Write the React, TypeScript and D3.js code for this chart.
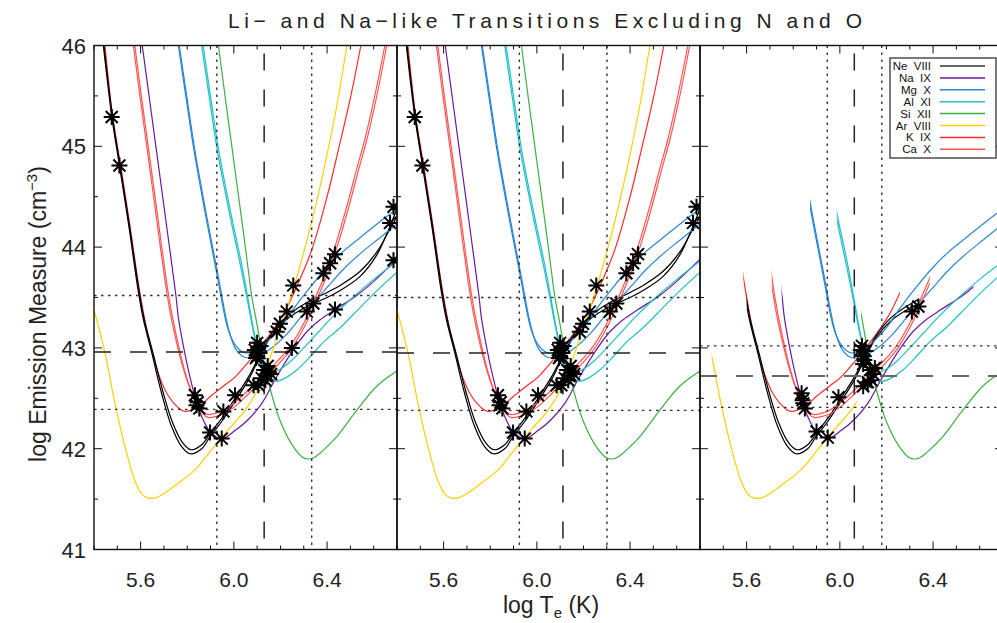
import React, { useEffect, useRef } from 'react'
import * as d3 from 'd3'

type Pt = [number, number]

// log T , log EM
const neVIII_a: Pt[] = [[5.44, 46.0], [5.476, 45.3], [5.509, 44.81], [5.55, 44.2], [5.59, 43.56], [5.612, 43.28], [5.648, 42.95], [5.69, 42.55], [5.733, 42.22], [5.776, 42.02], [5.812, 41.95], [5.862, 42.0], [5.898, 42.12], [5.948, 42.27], [6.005, 42.47], [6.062, 42.68], [6.105, 42.88], [6.155, 43.1], [6.22, 43.27], [6.313, 43.41], [6.4, 43.5], [6.456, 43.57], [6.542, 43.71], [6.613, 43.92], [6.663, 44.17], [6.7, 44.38]]
const neVIII_b: Pt[] = [[5.443, 46.0], [5.479, 45.3], [5.512, 44.81], [5.553, 44.2], [5.594, 43.56], [5.616, 43.28], [5.652, 42.96], [5.694, 42.58], [5.737, 42.26], [5.78, 42.06], [5.815, 41.99], [5.862, 42.04], [5.898, 42.15], [5.948, 42.3], [6.005, 42.5], [6.062, 42.71], [6.105, 42.9], [6.155, 43.12], [6.22, 43.3], [6.313, 43.45], [6.4, 43.55], [6.456, 43.62], [6.542, 43.76], [6.613, 43.95], [6.663, 44.15], [6.7, 44.3]]
const naIX: Pt[] = [[5.607, 46.0], [5.645, 45.35], [5.68, 44.75], [5.715, 44.15], [5.752, 43.51], [5.762, 43.3], [5.785, 43.0], [5.805, 42.78], [5.833, 42.52], [5.862, 42.32], [5.898, 42.17], [5.948, 42.1], [6.005, 42.18], [6.062, 42.29], [6.12, 42.45], [6.18, 42.7], [6.255, 42.98], [6.313, 43.16], [6.37, 43.28], [6.434, 43.38], [6.527, 43.52], [6.6, 43.66], [6.7, 43.88]]
const mgX_a: Pt[] = [[5.762, 46.0], [5.795, 45.48], [5.829, 44.96], [5.88, 44.3], [5.929, 43.71], [5.972, 43.21], [6.0, 43.05], [6.025, 42.98], [6.051, 42.95], [6.09, 42.97], [6.143, 43.06], [6.2, 43.2], [6.26, 43.4], [6.32, 43.58], [6.4, 43.8], [6.47, 43.96], [6.545, 44.1], [6.62, 44.24], [6.7, 44.38]]
const mgX_b: Pt[] = [[5.766, 46.0], [5.799, 45.48], [5.833, 44.96], [5.884, 44.3], [5.933, 43.71], [5.976, 43.2], [6.005, 43.0], [6.035, 42.92], [6.065, 42.9], [6.1, 42.92], [6.15, 42.98], [6.22, 43.12], [6.3, 43.34], [6.4, 43.6], [6.47, 43.78], [6.545, 43.94], [6.62, 44.08], [6.7, 44.23]]
const alXI_a: Pt[] = [[5.862, 46.0], [5.895, 45.48], [5.929, 44.96], [5.98, 44.35], [6.03, 43.8], [6.06, 43.45], [6.085, 43.15], [6.11, 42.93], [6.14, 42.8], [6.17, 42.76], [6.2, 42.79], [6.25, 42.88], [6.3, 43.0], [6.36, 43.15], [6.42, 43.3], [6.5, 43.48], [6.6, 43.68], [6.7, 43.86]]
const alXI_b: Pt[] = [[5.868, 46.0], [5.901, 45.48], [5.935, 44.96], [5.986, 44.35], [6.036, 43.8], [6.066, 43.42], [6.092, 43.1], [6.12, 42.86], [6.15, 42.72], [6.18, 42.67], [6.22, 42.7], [6.27, 42.78], [6.33, 42.92], [6.39, 43.07], [6.456, 43.2], [6.55, 43.42], [6.62, 43.58], [6.7, 43.75]]
const siXII: Pt[] = [[5.934, 46.0], [5.965, 45.45], [6.0, 44.85], [6.035, 44.25], [6.062, 43.77], [6.077, 43.51], [6.098, 43.25], [6.127, 42.88], [6.155, 42.6], [6.198, 42.28], [6.255, 42.02], [6.298, 41.91], [6.33, 41.9], [6.356, 41.93], [6.4, 42.02], [6.442, 42.12], [6.527, 42.38], [6.613, 42.62], [6.7, 42.77]]
const arVIII: Pt[] = [[5.4, 43.38], [5.447, 42.95], [5.49, 42.45], [5.533, 42.02], [5.576, 41.68], [5.605, 41.55], [5.633, 41.51], [5.66, 41.51], [5.69, 41.54], [5.762, 41.66], [5.833, 41.79], [5.905, 41.99], [5.976, 42.19], [6.048, 42.38], [6.105, 42.6], [6.155, 42.9], [6.212, 43.28], [6.25, 43.55], [6.3, 43.95], [6.334, 44.25], [6.37, 44.6], [6.4, 44.92], [6.44, 45.38], [6.485, 46.0]]
const kIX: Pt[] = [[5.447, 46.0], [5.48, 45.3], [5.515, 44.8], [5.555, 44.2], [5.595, 43.57], [5.632, 43.12], [5.675, 42.75], [5.72, 42.52], [5.76, 42.41], [5.79, 42.37], [5.85, 42.42], [5.905, 42.53], [5.96, 42.63], [6.005, 42.71], [6.062, 42.86], [6.1, 42.97], [6.16, 43.15], [6.212, 43.33], [6.27, 43.61], [6.334, 43.97], [6.4, 44.5], [6.45, 44.98], [6.5, 45.48], [6.545, 46.0]]
const caX_a: Pt[] = [[5.569, 46.0], [5.6, 45.45], [5.65, 44.6], [5.715, 43.51], [5.74, 43.2], [5.78, 42.82], [5.82, 42.55], [5.86, 42.38], [5.885, 42.34], [5.92, 42.35], [5.955, 42.38], [6.0, 42.45], [6.062, 42.58], [6.15, 42.78], [6.23, 42.98], [6.29, 43.2], [6.34, 43.45], [6.39, 43.72], [6.44, 44.05], [6.49, 44.45], [6.53, 44.8], [6.56, 45.05], [6.6, 45.45], [6.648, 46.0]]
const caX_b: Pt[] = [[5.575, 46.0], [5.606, 45.45], [5.656, 44.6], [5.721, 43.51], [5.746, 43.2], [5.786, 42.8], [5.826, 42.52], [5.866, 42.35], [5.89, 42.31], [5.925, 42.32], [5.96, 42.35], [6.005, 42.42], [6.07, 42.56], [6.16, 42.76], [6.24, 42.97], [6.298, 43.19], [6.348, 43.44], [6.398, 43.71], [6.448, 44.04], [6.498, 44.44], [6.538, 44.79], [6.568, 45.04], [6.608, 45.44], [6.656, 46.0]]

// asterisks
const starsCommon: Pt[] = [[5.476, 45.29], [5.509, 44.81], [5.833, 42.53], [5.845, 42.46], [5.852, 42.4], [5.84, 42.43], [5.898, 42.16], [5.948, 42.1], [5.955, 42.37], [6.005, 42.53], [6.085, 42.63], [6.105, 42.63], [6.09, 42.98], [6.1, 42.92], [6.105, 43.0], [6.11, 42.95], [6.095, 42.9], [6.115, 43.02], [6.1, 43.05], [6.13, 42.78], [6.14, 42.72], [6.15, 42.76], [6.135, 42.68], [6.145, 42.82], [6.16, 42.74], [6.12, 42.7], [6.184, 43.16], [6.198, 43.24], [6.227, 43.36], [6.255, 43.62], [6.313, 43.36], [6.341, 43.44], [6.384, 43.74], [6.413, 43.84], [6.434, 43.93], [6.67, 44.24], [6.685, 44.4]]
const starsPanel1: Pt[] = [[6.249, 43.0], [6.434, 43.38], [6.685, 43.87]]
const starsPanel3: Pt[] = [[5.836, 42.55], [5.843, 42.45], [5.85, 42.4], [5.84, 42.48], [5.9, 42.17], [5.948, 42.11], [5.994, 42.51], [6.09, 42.98], [6.1, 42.92], [6.095, 43.02], [6.105, 42.88], [6.11, 42.97], [6.1, 42.84], [6.13, 42.78], [6.143, 42.74], [6.15, 42.8], [6.135, 42.68], [6.12, 42.66], [6.1, 42.62], [6.309, 43.36], [6.337, 43.41]]

// reference lines per panel
const vDotted = [[5.927, 6.334], [5.925, 6.301], [5.946, 6.18]]
const vDashed = [6.13, 6.112, 6.062]
const hDotted = [[43.52, 42.39], [43.5, 42.38], [43.02, 42.41]]
const hDashed = [42.96, 42.95, 42.72]

const ions = [
  { key: 'ne', label: 'Ne  VIII', color: '#000000', curves: [neVIII_a, neVIII_b], range3: [5.6, 6.337] },
  { key: 'na', label: 'Na  IX', color: '#6a1b9a', curves: [naIX], range3: [5.75, 6.573] },
  { key: 'mg', label: 'Mg  X', color: '#2a86d4', curves: [mgX_a, mgX_b], range3: [5.872, 6.8] },
  { key: 'al', label: 'Al  XI', color: '#22bfc9', curves: [alXI_a, alXI_b], range3: [5.987, 6.8] },
  { key: 'si', label: 'Si  XII', color: '#3cb043', curves: [siXII], range3: [6.091, 6.8] },
  { key: 'ar', label: 'Ar  VIII', color: '#ffd000', curves: [arVIII], range3: [5.45, 6.072] },
  { key: 'k', label: 'K  IX', color: '#ff2b2b', curves: [kIX], range3: [5.586, 6.258] },
  { key: 'ca', label: 'Ca  X', color: '#ff5555', curves: [caX_a, caX_b], range3: [5.708, 6.386] },
]
const drawOrder = ['k', 'ne', 'na', 'mg', 'al', 'si', 'ar', 'ca']

const xTicksMajor = [5.6, 6.0, 6.4]
const yTicksMajor = [41, 42, 43, 44, 45, 46]

const FONT = 'Liberation Sans, Arial, sans-serif'

const App = () => {
  const ref = useRef<SVGSVGElement>(null)

  useEffect(() => {
    const svg = d3.select(ref.current)
    svg.selectAll('*').remove()

    const top = 45.5, bottom = 549.5, left0 = 94, pw = 303
    const y = d3.scaleLinear().domain([41, 46]).range([bottom, top])
    const defs = svg.append('defs')

    const line = (x: any) => d3.line<Pt>().x(d => x(d[0])).y(d => y(d[1])).curve(d3.curveCatmullRom.alpha(0.5))

    const star = (cx: number, cy: number) => {
      const r = 8, q = 6
      return `M${cx - r},${cy}L${cx + r},${cy}M${cx},${cy - r}L${cx},${cy + r}` +
        `M${cx - q},${cy - q}L${cx + q},${cy + q}M${cx - q},${cy + q}L${cx + q},${cy - q}`
    }

    for (let p = 0; p < 3; p++) {
      const L = left0 + p * pw
      const x = d3.scaleLinear().domain([5.4, 6.7]).range([L, L + pw])
      defs.append('clipPath').attr('id', 'clip' + p)
        .append('rect').attr('x', L).attr('y', top).attr('width', pw).attr('height', bottom - top)

      const g = svg.append('g').attr('clip-path', `url(#clip${p})`)

      drawOrder.forEach(k => {
        const ion = ions.find(d => d.key === k)!
        let gg = g
        if (p === 2) {
          const id = `r3_${k}`
          defs.append('clipPath').attr('id', id).append('rect')
            .attr('x', x(ion.range3[0])).attr('y', 0)
            .attr('width', x(ion.range3[1]) - x(ion.range3[0])).attr('height', 623)
          gg = g.append('g').attr('clip-path', `url(#${id})`)
        }
        ion.curves.forEach(c => {
          gg.append('path').datum(c)
            .attr('d', line(x))
            .attr('fill', 'none')
            .attr('stroke', ion.color)
            .attr('stroke-width', 1.2)
        })
      })

      // reference lines
      vDotted[p].forEach(v => {
        g.append('line').attr('x1', x(v)).attr('x2', x(v)).attr('y1', top).attr('y2', bottom)
          .attr('stroke', '#333').attr('stroke-width', 1.4).attr('stroke-dasharray', '2.5,4.5')
      })
      hDotted[p].forEach(v => {
        g.append('line').attr('x1', L).attr('x2', L + pw).attr('y1', y(v)).attr('y2', y(v))
          .attr('stroke', '#333').attr('stroke-width', 1.4).attr('stroke-dasharray', '2.5,4.5')
      })
      g.append('line').attr('x1', x(vDashed[p])).attr('x2', x(vDashed[p])).attr('y1', top + 8).attr('y2', bottom)
        .attr('stroke', '#222').attr('stroke-width', 1.5).attr('stroke-dasharray', '17,19')
      g.append('line').attr('x1', L).attr('x2', L + pw).attr('y1', y(hDashed[p])).attr('y2', y(hDashed[p]))
        .attr('stroke', p === 2 ? '#666' : '#222').attr('stroke-width', p === 2 ? 2 : 1.5).attr('stroke-dasharray', '17,19')

      // stars
      const stars = p === 0 ? starsCommon.concat(starsPanel1) : p === 1 ? starsCommon : starsPanel3
      g.append('path')
        .attr('d', stars.map(s => star(x(s[0]), y(s[1]))).join(''))
        .attr('fill', 'none').attr('stroke', '#000').attr('stroke-width', 2)

      // frame
      svg.append('rect').attr('x', L).attr('y', top).attr('width', pw).attr('height', bottom - top)
        .attr('fill', 'none').attr('stroke', '#111').attr('stroke-width', 1.4)

      // ticks
      const xt = d3.range(5.4, 6.71, 0.1).map(v => Math.round(v * 10) / 10)
      xt.forEach(v => {
        const len = xTicksMajor.includes(v) ? 8 : 4
        svg.append('line').attr('x1', x(v)).attr('x2', x(v)).attr('y1', bottom).attr('y2', bottom - len).attr('stroke', '#111')
        svg.append('line').attr('x1', x(v)).attr('x2', x(v)).attr('y1', top).attr('y2', top + len).attr('stroke', '#111')
      })
      const yt = d3.range(41, 46.01, 0.5)
      yt.forEach(v => {
        const len = Number.isInteger(v) ? 8 : 4
        svg.append('line').attr('x1', L).attr('x2', L + len).attr('y1', y(v)).attr('y2', y(v)).attr('stroke', '#111')
        svg.append('line').attr('x1', L + pw).attr('x2', L + pw - len).attr('y1', y(v)).attr('y2', y(v)).attr('stroke', '#111')
      })
      xTicksMajor.forEach(v => {
        svg.append('text').attr('x', x(v)).attr('y', 587).attr('text-anchor', 'middle')
          .style('font-family', FONT).style('font-size', '21px').attr('fill', '#222')
          .text(v.toFixed(1))
      })
    }

    // y tick labels
    yTicksMajor.forEach(v => {
      svg.append('text').attr('x', 86).attr('y', y(v) + 8).attr('text-anchor', 'end')
        .style('font-family', FONT).style('font-size', '22px').attr('fill', '#222')
        .text(v)
    })

    // titles
    svg.append('text').attr('x', 545).attr('y', 28).attr('text-anchor', 'middle')
      .style('font-family', FONT).style('font-size', '21px').attr('fill', '#222')
      .attr('textLength', 634).attr('lengthAdjust', 'spacing')
      .text('Li\u2212 and Na\u2212like Transitions Excluding N and O')

    const ytl = svg.append('text').attr('transform', 'translate(46,314) rotate(-90)').attr('text-anchor', 'middle')
      .style('font-family', FONT).style('font-size', '23px').attr('fill', '#222')
    ytl.append('tspan').text('log Emission Measure (cm')
    ytl.append('tspan').attr('dy', -9).style('font-size', '15px').text('\u22123')
    ytl.append('tspan').attr('dy', 9).text(')')

    const xtl = svg.append('text').attr('x', 551).attr('y', 613).attr('text-anchor', 'middle')
      .style('font-family', FONT).style('font-size', '23px').attr('fill', '#222')
    xtl.append('tspan').text('log T')
    xtl.append('tspan').attr('dy', 5).style('font-size', '15px').text('e')
    xtl.append('tspan').attr('dy', -5).text(' (K)')

    // legend
    const lg = svg.append('g')
    lg.append('rect').attr('x', 890).attr('y', 58).attr('width', 106).attr('height', 100)
      .attr('fill', '#fff').attr('stroke', '#333').attr('stroke-width', 1.3)
    ions.forEach((ion, i) => {
      const yy = 66 + i * 11.9
      lg.append('text').attr('x', 931).attr('y', yy + 4).attr('text-anchor', 'end')
        .style('font-family', FONT).style('font-size', '11.5px').style('white-space', 'pre').attr('fill', '#111')
        .text(ion.label)
      lg.append('line').attr('x1', 940).attr('x2', 985).attr('y1', yy).attr('y2', yy)
        .attr('stroke', ion.color === '#000000' ? '#333' : ion.color).attr('stroke-width', 1.5)
    })
  }, [])

  return (
    <svg ref={ref} width={997} height={623} style={{ display: 'block', position: 'absolute', left: 0, top: 0, background: '#fff' }} />
  )
}

export default App
